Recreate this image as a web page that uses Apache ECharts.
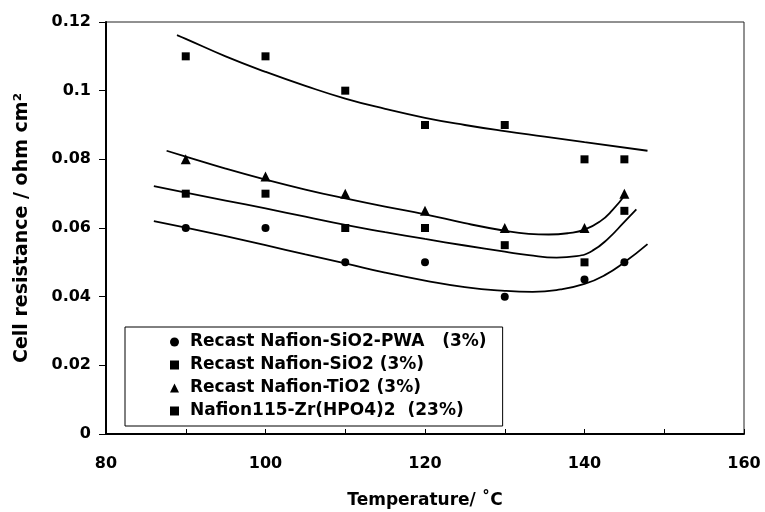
<!DOCTYPE html>
<html>
<head>
<meta charset="utf-8">
<title>Cell resistance vs temperature</title>
<script src="https://cdn.jsdelivr.net/npm/echarts@6/dist/echarts.min.js"></script>
<style>
  html, body { margin: 0; padding: 0; background: #fff; }
  #main { width: 765px; height: 512px; }
</style>
</head>
<body>
<div id="main"></div>
<script>
// measured points
var temps = [90, 100, 110, 120, 130, 140, 145];
var pwa   = [0.06, 0.06, 0.05, 0.05, 0.04, 0.045, 0.05];
var sio2  = [0.07, 0.07, 0.06, 0.06, 0.055, 0.05, 0.065];
var tio2  = [0.08, 0.075, 0.07, 0.065, 0.06, 0.06, 0.07];
var zrp   = [0.11, 0.11, 0.10, 0.09, 0.09, 0.08, 0.08];

// trend lines
var fitPwaX = [86, 90, 95, 100, 105, 110, 115, 120, 125, 130, 133.5, 137, 140, 142.5, 145, 147.9];
var fitPwaY = [0.062, 0.0601, 0.0576, 0.055, 0.0523, 0.0497, 0.047, 0.0447, 0.0428, 0.0417, 0.0414, 0.0421, 0.0437, 0.0462, 0.05, 0.0553];
var fitSiX  = [86, 90, 95, 100, 105, 110, 115, 120, 125, 130, 133, 136.5, 139, 141, 143, 145, 146.5];
var fitSiY  = [0.0722, 0.0703, 0.068, 0.0657, 0.0633, 0.0609, 0.0588, 0.0568, 0.0549, 0.0531, 0.0521, 0.0514, 0.0518, 0.0534, 0.057, 0.0618, 0.0654];
var fitTiX  = [87.6, 90, 95, 100, 105, 110, 115, 120, 125, 130, 133, 135.5, 138, 140, 142, 143.5, 145.1];
var fitTiY  = [0.0825, 0.0808, 0.0773, 0.0741, 0.0712, 0.0686, 0.0662, 0.064, 0.0614, 0.0592, 0.0583, 0.0581, 0.0585, 0.0595, 0.062, 0.0652, 0.0697];
var fitZrX  = [88.9, 90, 95, 100, 105, 110, 115, 120, 125, 130, 135, 140, 147.9];
var fitZrY  = [0.1162, 0.1151, 0.11, 0.1055, 0.1014, 0.0977, 0.0947, 0.0921, 0.09, 0.0882, 0.0866, 0.085, 0.0825];

var names = [
    'Recast Nafion-SiO2-PWA   (3%)',
    'Recast Nafion-SiO2 (3%)',
    'Recast Nafion-TiO2 (3%)',
    'Nafion115-Zr(HPO4)2  (23%)'
];
var xLabels = [80, 100, 120, 140, 160];

var font = 'DejaVu Sans';

function pairs(xs, ys) {
    return xs.map(function (x, i) { return [x, ys[i]]; });
}

function pointSeries(name, ys, symbol, size) {
    return {
        name: name,
        type: 'scatter',
        data: pairs(temps, ys),
        symbol: symbol,
        symbolSize: size,
        itemStyle: { color: '#000', opacity: 1 },
        z: 3
    };
}

function fitSeries(xs, ys) {
    return {
        type: 'line',
        data: pairs(xs, ys),
        smooth: 0.5,
        showSymbol: false,
        silent: true,
        lineStyle: { color: '#000', width: 1.8 },
        z: 2
    };
}

var myChart = echarts.init(document.getElementById('main'));

var option = {
    animation: false,
    backgroundColor: '#fff',
    grid: {
        left: 106, right: 21, top: 22, bottom: 78,
        outerBoundsMode: 'none',
        show: true,
        borderColor: '#222',
        borderWidth: 1
    },
    legend: {
        orient: 'vertical',
        left: 125,
        top: 327,
        data: names,
        itemWidth: 9,
        itemHeight: 9,
        itemGap: 5,
        padding: [6, 16, 6, 45],
        borderColor: '#000',
        borderWidth: 1,
        backgroundColor: '#fff',
        textStyle: {
            fontFamily: font, fontWeight: 'bold', fontSize: 17, color: '#000',
            lineHeight: 18, padding: [0, 0, 0, 6]
        }
    },
    xAxis: {
        type: 'value',
        min: 80, max: 160, interval: 10,
        name: 'Temperature/ ˚C',
        nameLocation: 'middle',
        nameGap: 58,
        nameTextStyle: { fontFamily: font, fontWeight: 'bold', fontSize: 17, color: '#000' },
        axisLine: { show: true, onZero: false, lineStyle: { color: '#000', width: 2 } },
        axisTick: { show: true, inside: true, length: 5, lineStyle: { color: '#000', width: 1 } },
        axisLabel: {
            margin: 22,
            fontFamily: font, fontWeight: 'bold', fontSize: 16, color: '#000',
            formatter: function (v) { return xLabels.indexOf(v) >= 0 ? String(v) : ''; }
        },
        splitLine: { show: false }
    },
    yAxis: {
        type: 'value',
        min: 0, max: 0.12, interval: 0.02,
        name: 'Cell resistance / ohm cm²',
        nameLocation: 'middle',
        nameGap: 74,
        nameTextStyle: { fontFamily: font, fontWeight: 'bold', fontSize: 19, color: '#000' },
        axisLine: { show: true, lineStyle: { color: '#000', width: 2 } },
        axisTick: { show: true, inside: false, length: 7, lineStyle: { color: '#000', width: 1 } },
        axisLabel: { margin: 15, fontFamily: font, fontWeight: 'bold', fontSize: 16, color: '#000' },
        splitLine: { show: false }
    },
    series: [
        pointSeries(names[0], pwa, 'circle', 8),
        pointSeries(names[1], sio2, 'rect', 8),
        pointSeries(names[2], tio2, 'triangle', 10),
        pointSeries(names[3], zrp, 'rect', 8),
        fitSeries(fitPwaX, fitPwaY),
        fitSeries(fitSiX, fitSiY),
        fitSeries(fitTiX, fitTiY),
        fitSeries(fitZrX, fitZrY)
    ]
};

myChart.setOption(option);
</script>
</body>
</html>
